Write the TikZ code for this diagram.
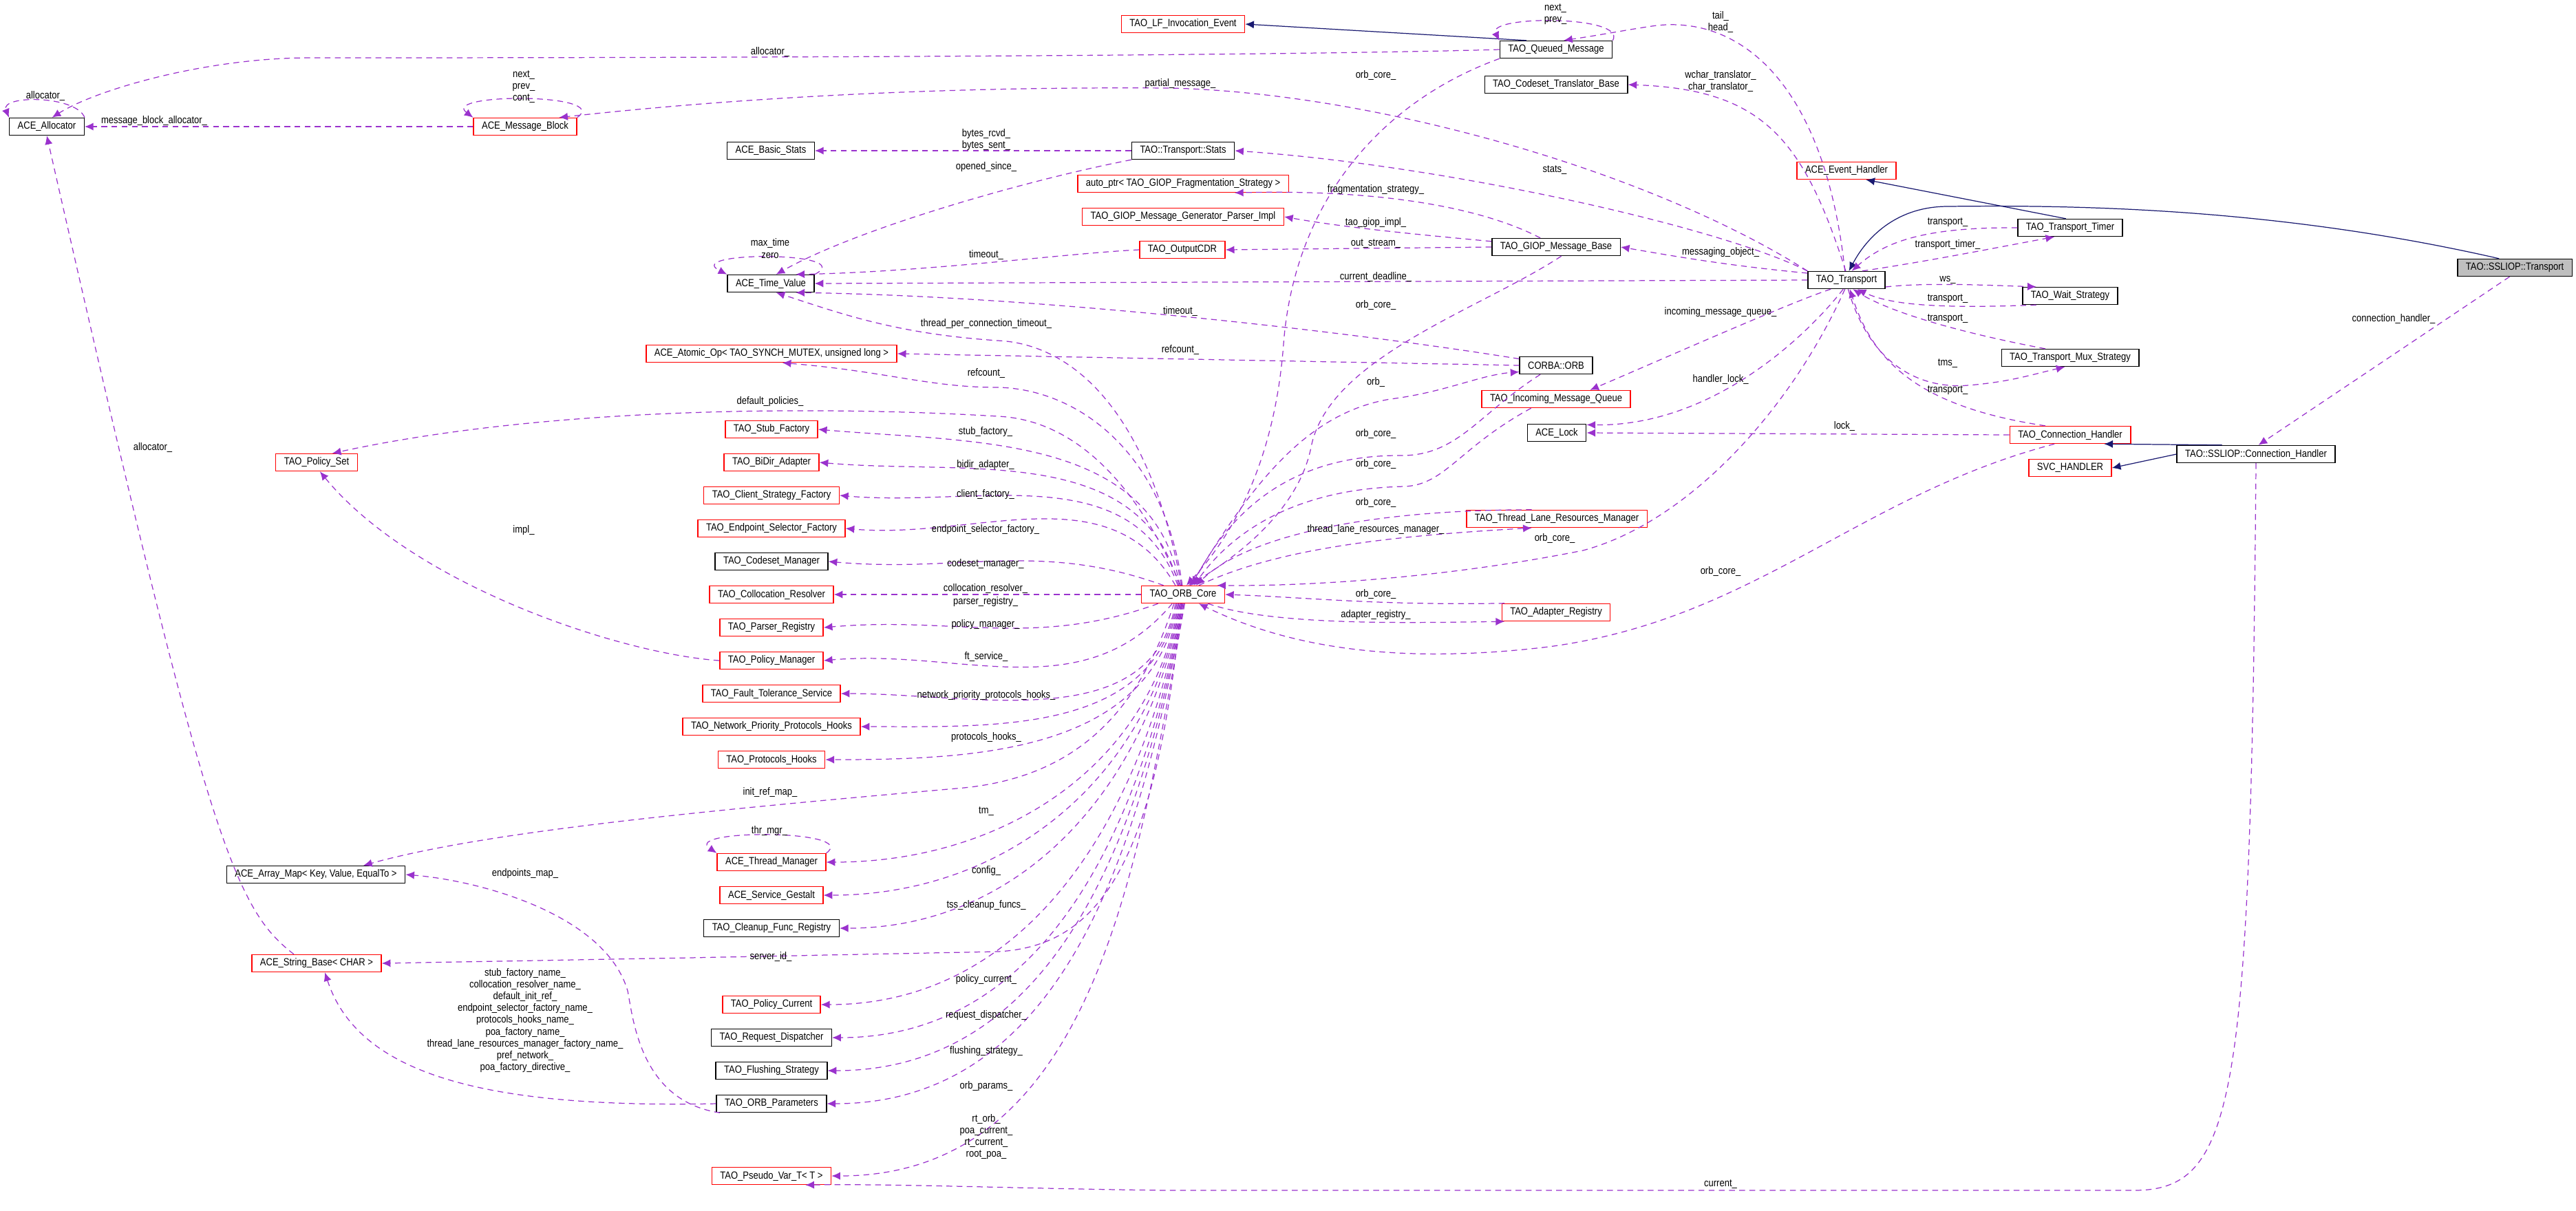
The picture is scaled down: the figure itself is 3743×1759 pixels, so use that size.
\documentclass[tikz,border=0pt]{standalone}
\usepackage{fontspec}
\setmainfont{Liberation Sans}
\newfontfamily\lbfam{Liberation Sans}[FakeStretch=0.86]
\usetikzlibrary{arrows.meta, positioning, calc}
\definecolor{dorchid}{RGB}{154,50,205}
\definecolor{navyb}{RGB}{25,25,112}
\newcommand\lbfont{\lbfam\fontsize{4.3}{4.9}\selectfont}
\tikzset{
   cls/.style={draw, font=\lbfont, minimum height=.25cm, inner xsep=.12cm, inner ysep=0pt, line width=.4pt},
   clsr/.style={cls, draw=red},
   clsme/.style={cls, fill=gray!50},
   mem/.style={draw=dorchid, dash pattern=on 2.4pt off 1.8pt, line width=.35pt, -{Latex[length=3.6pt,width=3.2pt]}},
   inh/.style={draw=navyb, line width=.35pt, -{Latex[length=3.6pt,width=3.2pt]}},
   lbl/.style={font=\lbfont, inner sep=0pt, align=center}
}

\begin{document}
\begin{tikzpicture}[x=.01cm, y=-.01cm]
   \useasboundingbox (0,0) rectangle (3743,1759);
   % classes
   \node[cls]  (alloc)      at (68,184)   {ACE\_Allocator};
   \node[clsr] (msgblk)     at (763,184)  {ACE\_Message\_Block};
   \node[cls]  (basicstats) at (1120,219) {ACE\_Basic\_Stats};
   \node[cls]  (timeval)    at (1120,412) {ACE\_Time\_Value};
   \node[clsr] (atomic)     at (1121,514) {ACE\_Atomic\_Op< TAO\_SYNCH\_MUTEX, unsigned long >};
   \node[clsr] (lfevent)    at (1719,35)  {TAO\_LF\_Invocation\_Event};
   \node[cls]  (queued)     at (2261,72)  {TAO\_Queued\_Message};
   \node[cls]  (cstrans)    at (2261,123) {TAO\_Codeset\_Translator\_Base};
   \node[cls]  (tstats)     at (1719,219) {TAO::Transport::Stats};
   \node[clsr] (autoptr)    at (1719,267) {auto\_ptr< TAO\_GIOP\_Fragmentation\_Strategy >};
   \node[clsr] (giopimpl)   at (1719,315) {TAO\_GIOP\_Message\_Generator\_Parser\_Impl};
   \node[clsr] (outcdr)     at (1718,363) {TAO\_OutputCDR};
   \node[cls]  (giopbase)   at (2261,359) {TAO\_GIOP\_Message\_Base};
   \node[cls]  (orb)        at (2261,531) {CORBA::ORB};
   \node[clsr] (inqueue)    at (2261,580) {TAO\_Incoming\_Message\_Queue};
   \node[cls]  (acelock)    at (2262,629) {ACE\_Lock};
   \node[clsr] (tlrm)       at (2262,754) {TAO\_Thread\_Lane\_Resources\_Manager};
   \node[clsr] (adapreg)    at (2261,890) {TAO\_Adapter\_Registry};
   \node[clsr] (evhandler)  at (2683,248) {ACE\_Event\_Handler};
   \node[cls]  (transport)  at (2683,407) {TAO\_Transport};
   \node[cls]  (ttimer)     at (3008,331) {TAO\_Transport\_Timer};
   \node[cls]  (waitst)     at (3008,430) {TAO\_Wait\_Strategy};
   \node[cls]  (muxst)      at (3008,520) {TAO\_Transport\_Mux\_Strategy};
   \node[clsr] (connh)      at (3008,632) {TAO\_Connection\_Handler};
   \node[clsr] (svch)       at (3008,680) {SVC\_HANDLER};
   \node[clsme](ssltrans)   at (3654,389) {TAO::SSLIOP::Transport};
   \node[cls]  (sslconnh)   at (3278,660) {TAO::SSLIOP::Connection\_Handler};
   \node[clsr] (orbcore)    at (1719,864) {TAO\_ORB\_Core};
   \node[clsr] (policyset)  at (460,672)  {TAO\_Policy\_Set};
   \node[clsr] (stubf)      at (1121,624) {TAO\_Stub\_Factory};
   \node[clsr] (bidir)      at (1121,672) {TAO\_BiDir\_Adapter};
   \node[clsr] (clientf)    at (1121,720) {TAO\_Client\_Strategy\_Factory};
   \node[clsr] (endpf)      at (1121,768) {TAO\_Endpoint\_Selector\_Factory};
   \node[cls]  (codesetm)   at (1121,816) {TAO\_Codeset\_Manager};
   \node[clsr] (colloc)     at (1121,864) {TAO\_Collocation\_Resolver};
   \node[clsr] (parser)     at (1121,912) {TAO\_Parser\_Registry};
   \node[clsr] (policym)    at (1121,960) {TAO\_Policy\_Manager};
   \node[clsr] (ftserv)     at (1121,1008) {TAO\_Fault\_Tolerance\_Service};
   \node[clsr] (netprio)    at (1121,1056) {TAO\_Network\_Priority\_Protocols\_Hooks};
   \node[clsr] (prothooks)  at (1121,1104) {TAO\_Protocols\_Hooks};
   \node[cls]  (arraymap)   at (459,1271) {ACE\_Array\_Map< Key, Value, EqualTo >};
   \node[clsr] (thrmgr)     at (1121,1253) {ACE\_Thread\_Manager};
   \node[clsr] (gestalt)    at (1121,1301) {ACE\_Service\_Gestalt};
   \node[cls]  (cleanup)    at (1121,1349) {TAO\_Cleanup\_Func\_Registry};
   \node[clsr] (strbase)    at (460,1400) {ACE\_String\_Base< CHAR >};
   \node[clsr] (polcur)     at (1121,1460) {TAO\_Policy\_Current};
   \node[cls]  (reqdisp)    at (1121,1508) {TAO\_Request\_Dispatcher};
   \node[cls]  (flushing)   at (1121,1556) {TAO\_Flushing\_Strategy};
   \node[cls]  (orbparams)  at (1121,1604) {TAO\_ORB\_Parameters};
   \node[clsr] (pseudovar)  at (1121,1709) {TAO\_Pseudo\_Var\_T< T >};

   % inheritance
   \draw[inh] (queued.163) -- (lfevent.east);
   \draw[inh] (ttimer.115) -- (evhandler.-25);
   \draw[inh] (ssltrans.150) .. controls (3300,300) and (3000,298) .. (2830,300) .. controls (2760,300) and (2715,340) .. (transport.75);
   \draw[inh] (sslconnh.165) -- (connh.-15);
   \draw[inh] (sslconnh.west) -- (svch.east);

   % self references
   \draw[mem] (alloc.north east) .. controls (110,138) and (0,138) .. (alloc.north west);
   \draw[mem] (msgblk.north east) .. controls (890,135) and (640,135) .. (msgblk.north west);
   \draw[mem] (timeval.north east) .. controls (1250,365) and (990,365) .. (timeval.north west);
   \draw[mem] (queued.north east) .. controls (2365,22) and (2160,22) .. (queued.north west);
   \draw[mem] (thrmgr.north east) .. controls (1250,1205) and (990,1205) .. (thrmgr.north west);

   % members
   \draw[mem] (queued.west) .. controls (1900,80) and (1200,84) .. (450,84) .. controls (300,84) and (140,130) .. (alloc.60);
   \draw[mem] (msgblk.west) -- (alloc.east);
   \draw[mem] (transport.north west) .. controls (2400,250) and (2000,135) .. (1700,128) .. controls (1300,125) and (1000,150) .. (msgblk.15);
   \draw[mem] (tstats.west) -- (basicstats.east);
   \draw[mem] (tstats.south west) .. controls (1500,260) and (1250,330) .. (timeval.60);
   \draw[mem] (outcdr.west) .. controls (1550,368) and (1350,395) .. (timeval.20);
   \draw[mem] (transport.west) -- (timeval.east);
   \draw[mem] (orb.170) .. controls (1950,480) and (1500,430) .. (timeval.-20);
   \draw[mem] (orbcore.100) .. controls (1670,600) and (1560,500) .. (1450,495) .. controls (1300,485) and (1220,455) .. (timeval.-60);
   \draw[mem] (orb.west) -- (atomic.east);
   \draw[mem] (orbcore.95) .. controls (1690,650) and (1560,565) .. (1450,563) .. controls (1350,563) and (1290,540) .. (atomic.-40);
   \draw[mem] (transport.100) .. controls (2650,110) and (2520,20) .. (2400,38) .. controls (2360,44) and (2330,50) .. (queued.50);
   \draw[mem] (queued.south west) .. controls (2000,150) and (1880,300) .. (1865,500) .. controls (1850,700) and (1770,800) .. (orbcore.70);
   \draw[mem] (transport.95) .. controls (2620,200) and (2560,130) .. (cstrans.east);
   \draw[mem] (transport.north west) .. controls (2500,330) and (2100,240) .. (tstats.east);
   \draw[mem] (giopbase.150) .. controls (2150,300) and (2000,275) .. (autoptr.-10);
   \draw[mem] (giopbase.175) .. controls (2050,340) and (1950,330) .. (giopimpl.east);
   \draw[mem] (giopbase.west) -- (outcdr.east);
   \draw[mem] (transport.170) .. controls (2500,385) and (2420,370) .. (giopbase.east);
   \draw[mem] (giopbase.-60) .. controls (2150,450) and (1930,520) .. (1905,650) .. controls (1885,750) and (1780,820) .. (orbcore.60);
   \draw[mem] (transport.-150) .. controls (2600,440) and (2420,520) .. (inqueue.15);
   \draw[mem] (orbcore.50) .. controls (1820,700) and (1900,600) .. (2020,580) .. controls (2100,570) and (2150,545) .. (orb.-170);
   \draw[mem] (orb.-150) .. controls (2150,600) and (2120,660) .. (2040,662) .. controls (1900,660) and (1800,720) .. (orbcore.45);
   \draw[mem] (inqueue.-160) .. controls (2120,650) and (2100,705) .. (2040,707) .. controls (1900,710) and (1800,760) .. (orbcore.40);
   \draw[mem] (tlrm.160) .. controls (1950,741) and (1800,790) .. (orbcore.35);
   \draw[mem] (orbcore.30) .. controls (1850,800) and (2000,780) .. (tlrm.-160);
   \draw[mem] (transport.-100) .. controls (2600,600) and (2450,760) .. (2300,800) .. controls (2100,840) and (1900,852) .. (orbcore.15);
   \draw[mem] (connh.-150) .. controls (2700,720) and (2550,900) .. (2250,940) .. controls (2000,970) and (1850,930) .. (orbcore.-30);
   \draw[mem] (adapreg.170) .. controls (2000,880) and (1900,868) .. (orbcore.east);
   \draw[mem] (orbcore.-20) .. controls (1850,910) and (2050,905) .. (adapreg.-170);
   \draw[mem] (transport.-110) .. controls (2640,470) and (2500,620) .. (acelock.15);
   \draw[mem] (connh.west) -- (acelock.east);
   \draw[mem] (ttimer.west) .. controls (2800,330) and (2740,350) .. (transport.60);
   \draw[mem] (transport.30) .. controls (2800,380) and (2900,360) .. (ttimer.-150);
   \draw[mem] (transport.-10) .. controls (2800,410) and (2900,415) .. (waitst.165);
   \draw[mem] (waitst.-165) .. controls (2830,448) and (2750,445) .. (transport.-40);
   \draw[mem] (muxst.160) .. controls (2830,480) and (2740,450) .. (transport.-55);
   \draw[mem] (transport.-80) .. controls (2720,540) and (2800,565) .. (2860,560) .. controls (2920,555) and (2950,545) .. (muxst.-120);
   \draw[mem] (connh.160) .. controls (2780,590) and (2720,520) .. (transport.-70);
   \draw[mem] (ssltrans.-120) -- (sslconnh.75);
   \draw[mem] (sslconnh.south) .. controls (3270,1600) and (3250,1730) .. (3100,1730) -- (1700,1730) .. controls (1500,1728) and (1300,1720) .. (pseudovar.-15);
   \draw[mem] (orbcore.105) .. controls (1650,700) and (1560,610) .. (1450,605) .. controls (1200,590) and (800,590) .. (policyset.30);
   \draw[mem] (policym.west) .. controls (900,950) and (600,850) .. (policyset.-70);
   \draw[mem] (orbcore.110) to[out=100,in=-5] (stubf.east);
   \draw[mem] (orbcore.115) to[out=105,in=-5] (bidir.east);
   \draw[mem] (orbcore.120) to[out=110,in=-5] (clientf.east);
   \draw[mem] (orbcore.130) to[out=120,in=-5] (endpf.east);
   \draw[mem] (orbcore.155) to[out=160,in=-5] (codesetm.east);
   \draw[mem] (orbcore.west) -- (colloc.east);
   \draw[mem] (orbcore.-160) to[out=200,in=5] (parser.east);
   \draw[mem] (orbcore.-140) to[out=230,in=5] (policym.east);
   \foreach \n/\a in {ftserv/-130, netprio/-125, prothooks/-120, thrmgr/-115, gestalt/-110, cleanup/-105, polcur/-100, reqdisp/-95, flushing/-90, orbparams/-85, pseudovar/-80}
      \draw[mem] (orbcore.\a) to[out=-100,in=0] (\n.east);
   \draw[mem] (orbcore.-135) .. controls (1650,1050) and (1550,1130) .. (1400,1145) .. controls (1000,1180) and (700,1210) .. ([xshift=.69cm]arraymap.north);
   \draw[mem] (orbcore.-100) .. controls (1680,1250) and (1600,1375) .. (1450,1383) -- (1000,1392) -- (strbase.east);
   \draw[mem] (orbparams.west) .. controls (700,1611) and (520,1560) .. ([xshift=.12cm]strbase.south);
   \draw[mem] (orbparams.-170) .. controls (930,1600) and (920,1480) .. (912,1440) .. controls (880,1330) and (700,1280) .. (arraymap.east);
   \draw[mem] ([xshift=-.33cm]strbase.north) .. controls (340,1320) and (300,1220) .. (alloc.south);

   % labels
   \node[lbl] (l1) at (66,140) {allocator\_};
   \node[lbl] (l2) at (1119,76) {allocator\_};
   \node[lbl] (l3) at (761,126) {next\_\\prev\_\\cont\_};
   \node[lbl] (l4) at (224,176) {message\_block\_allocator\_};
   \node[lbl] (l5) at (1119,361) {max\_time\\zero};
   \node[lbl] (l6) at (1119,584) {default\_policies\_};
   \node[lbl] (l7) at (2260,21) {next\_\\prev\_};
   \node[lbl] (l8) at (2500,32) {tail\_\\head\_};
   \node[lbl] (l9) at (1999,110) {orb\_core\_};
   \node[lbl] (l10) at (1715,122) {partial\_message\_};
   \node[lbl] (l11) at (2500,118) {wchar\_translator\_\\char\_translator\_};
   \node[lbl] (l12) at (1433,203) {bytes\_rcvd\_\\bytes\_sent\_};
   \node[lbl] (l13) at (1433,243) {opened\_since\_};
   \node[lbl] (l14) at (2259,247) {stats\_};
   \node[lbl] (l15) at (1999,276) {fragmentation\_strategy\_};
   \node[lbl] (l16) at (1999,324) {tao\_giop\_impl\_};
   \node[lbl] (l17) at (1999,354) {out\_stream\_};
   \node[lbl] (l18) at (1433,371) {timeout\_};
   \node[lbl] (l19) at (2500,367) {messaging\_object\_};
   \node[lbl] (l20) at (1999,402) {current\_deadline\_};
   \node[lbl] (l21) at (1999,444) {orb\_core\_};
   \node[lbl] (l22) at (1715,452) {timeout\_};
   \node[lbl] (l23) at (2500,454) {incoming\_message\_queue\_};
   \node[lbl] (l24) at (1433,471) {thread\_per\_connection\_timeout\_};
   \node[lbl] (l25) at (1715,509) {refcount\_};
   \node[lbl] (l26) at (1433,543) {refcount\_};
   \node[lbl] (l27) at (1999,555) {orb\_};
   \node[lbl] (l28) at (2500,551) {handler\_lock\_};
   \node[lbl] (l29) at (1432,628) {stub\_factory\_};
   \node[lbl] (l30) at (1432,676) {bidir\_adapter\_};
   \node[lbl] (l31) at (1432,719) {client\_factory\_};
   \node[lbl] (l32) at (1432,770) {endpoint\_selector\_factory\_};
   \node[lbl] (l33) at (1432,820) {codeset\_manager\_};
   \node[lbl] (l34) at (1432,855) {collocation\_resolver\_};
   \node[lbl] (l35) at (1432,875) {parser\_registry\_};
   \node[lbl] (l36) at (1432,908) {policy\_manager\_};
   \node[lbl] (l37) at (1999,630) {orb\_core\_};
   \node[lbl] (l38) at (1999,674) {orb\_core\_};
   \node[lbl] (l39) at (1999,730) {orb\_core\_};
   \node[lbl] (l40) at (1999,770) {thread\_lane\_resources\_manager\_};
   \node[lbl] (l41) at (2259,782) {orb\_core\_};
   \node[lbl] (l42) at (2500,830) {orb\_core\_};
   \node[lbl] (l43) at (1999,863) {orb\_core\_};
   \node[lbl] (l44) at (1999,894) {adapter\_registry\_};
   \node[lbl] (l45) at (2680,619) {lock\_};
   \node[lbl] (l46) at (2830,323) {transport\_};
   \node[lbl] (l47) at (2830,356) {transport\_timer\_};
   \node[lbl] (l48) at (2830,407) {ws\_};
   \node[lbl] (l49) at (2830,434) {transport\_};
   \node[lbl] (l50) at (2830,463) {transport\_};
   \node[lbl] (l51) at (2830,528) {tms\_};
   \node[lbl] (l52) at (2830,567) {transport\_};
   \node[lbl] (l53) at (3478,463) {connection\_handler\_};
   \node[lbl] (l54) at (222,650) {allocator\_};
   \node[lbl] (l55) at (761,771) {impl\_};
   \node[lbl] (l56) at (1119,1152) {init\_ref\_map\_};
   \node[lbl] (l57) at (1433,954) {ft\_service\_};
   \node[lbl] (l58) at (1433,1011) {network\_priority\_protocols\_hooks\_};
   \node[lbl] (l59) at (1433,1072) {protocols\_hooks\_};
   \node[lbl] (l60) at (1433,1179) {tm\_};
   \node[lbl] (l61) at (1433,1266) {config\_};
   \node[lbl] (l62) at (1433,1316) {tss\_cleanup\_funcs\_};
   \node[lbl] (l63) at (1433,1424) {policy\_current\_};
   \node[lbl] (l64) at (1433,1476) {request\_dispatcher\_};
   \node[lbl] (l65) at (1433,1528) {flushing\_strategy\_};
   \node[lbl] (l66) at (1433,1579) {orb\_params\_};
   \node[lbl] (l67) at (1433,1652) {rt\_orb\_\\poa\_current\_\\rt\_current\_\\root\_poa\_};
   \node[lbl] (l68) at (2500,1721) {current\_};
   \node[lbl] (l69) at (1118,1208) {thr\_mgr\_};
   \node[lbl] (l70) at (763,1270) {endpoints\_map\_};
   \node[lbl] (l71) at (1120,1390) {server\_id\_};
   \node[lbl] (l72) at (763,1483) {stub\_factory\_name\_\\collocation\_resolver\_name\_\\default\_init\_ref\_\\endpoint\_selector\_factory\_name\_\\protocols\_hooks\_name\_\\poa\_factory\_name\_\\thread\_lane\_resources\_manager\_factory\_name\_\\pref\_network\_\\poa\_factory\_directive\_};
\end{tikzpicture}
\end{document}
